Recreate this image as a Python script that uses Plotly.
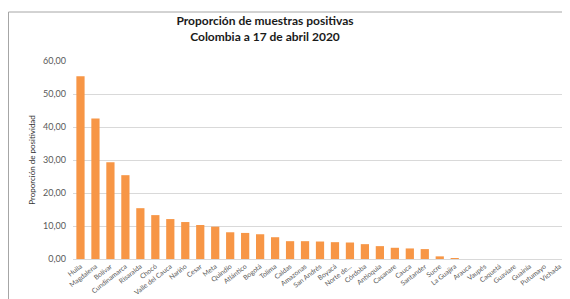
import plotly.graph_objects as go

departamentos = ["Huila", "Magdalena", "Bolívar", "Cundinamarca", "Risaralda", "Chocó",
                 "Valle del Cauca", "Nariño", "Cesar", "Meta", "Quindío", "Atlántico",
                 "Bogotá", "Tolima", "Caldas", "Amazonas", "San Andrés", "Boyacá",
                 "Norte de...", "Córdoba", "Antioquia", "Casanare", "Cauca", "Santander",
                 "Sucre", "La Guajira", "Arauca", "Vaupés", "Caquetá", "Guaviare",
                 "Guainía", "Putumayo", "Vichada"]
positividad = [55.4, 42.6, 29.3, 25.4, 15.4, 13.3, 12.1, 11.2, 10.3, 9.8, 8.1, 7.9,
               7.5, 6.6, 5.4, 5.4, 5.3, 5.1, 5.0, 4.5, 3.9, 3.4, 3.2, 3.0,
               0.8, 0.2, 0, 0, 0, 0, 0, 0, 0]
y_ticks = [0, 10, 20, 30, 40, 50, 60]

# page body has an 8px margin, so the figure is sized to fill the rest of the window
W, H = 562, 291
L, R, T, B = 65, 3, 53, 40
pw, ph = W - L - R, H - T - B

fig = go.Figure(go.Bar(
    x=departamentos, y=positividad,
    marker=dict(color="#F79646", line=dict(width=0)),
))

fig.update_layout(
    width=W, height=H,
    margin=dict(l=L, r=R, t=T, b=B),
    paper_bgcolor="white", plot_bgcolor="white",
    separators=",.",
    bargap=0.45,
    showlegend=False,
    title=dict(
        text="Proporción de muestras positivas<br>Colombia a 17 de abril 2020",
        x=257/W, xanchor="center", y=1 - 17/H, yanchor="top",
        font=dict(family="Lato", size=12, color="#1a1a1a", weight="bold"),
    ),
    font=dict(family="Lato", color="#595959"),
    xaxis=dict(
        tickangle=-38, tickfont=dict(size=6.8, color="#595959"),
        showline=True, linecolor="#D9D9D9", linewidth=1,
        showgrid=False, ticks="", automargin=False,
    ),
    yaxis=dict(
        range=[0, 60], tickvals=y_ticks, tickformat=".2f",
        tickfont=dict(size=9, color="#595959"),
        showgrid=True, gridcolor="#D9D9D9", gridwidth=1,
        zeroline=False, ticks="", ticklabelstandoff=6, automargin=False,
        title=dict(text="Proporción de positividad", font=dict(size=8, color="#333333"), standoff=6),
    ),
    shapes=[
        dict(type="line", xref="paper", yref="paper",
             x0=(0.5 - L) / pw, x1=1.2, y0=(T + ph - 4) / ph, y1=(T + ph - 4) / ph,
             line=dict(color="#A6A6A6", width=1)),
        dict(type="line", xref="paper", yref="paper",
             x0=(0.5 - L) / pw, x1=(0.5 - L) / pw, y0=(T + ph - 4) / ph, y1=-0.3,
             line=dict(color="#A6A6A6", width=1)),
    ],
)

fig.write_html("out.html")
